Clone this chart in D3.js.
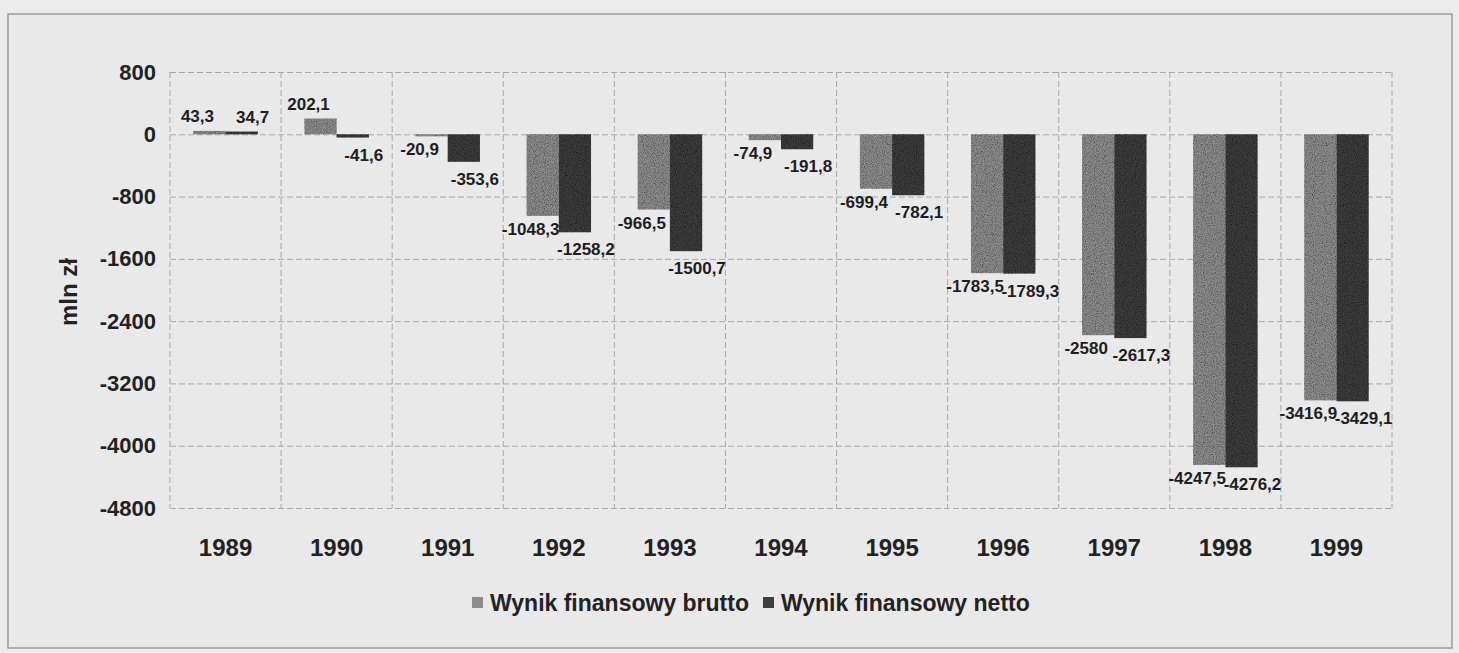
<!DOCTYPE html>
<html>
<head>
<meta charset="utf-8">
<script src="https://cdn.jsdelivr.net/npm/d3@7"></script>
<style>
    body { margin: 0; background: #ececec; }
    #chart svg { display: block; font-family: "Liberation Sans", Arial, sans-serif; font-weight: bold; }
</style>
</head>
<body>
<div id="chart"></div>
<script>
// Data
const years = ["1989", "1990", "1991", "1992", "1993", "1994", "1995", "1996", "1997", "1998", "1999"];
const brutto = [43.3, 202.1, -20.9, -1048.3, -966.5, -74.9, -699.4, -1783.5, -2580, -4247.5, -3416.9];
const netto = [34.7, -41.6, -353.6, -1258.2, -1500.7, -191.8, -782.1, -1789.3, -2617.3, -4276.2, -3429.1];
const yTicks = [800, 0, -800, -1600, -2400, -3200, -4000, -4800];
const seriesNames = ["Wynik finansowy brutto", "Wynik finansowy netto"];

const width = 1459, height = 653;
const plot = { left: 170, right: 1392, top: 72, bottom: 508 };

let svg = d3.select("#chart")
    .append("svg")
    .attr("width", width)
    .attr("height", height);

// light speckle to mimic the printed texture
let defs = svg.append("defs");
let grain = defs.append("filter").attr("id", "grain").attr("x", 0).attr("y", 0).attr("width", 1).attr("height", 1);
grain.append("feTurbulence").attr("type", "fractalNoise").attr("baseFrequency", 0.9).attr("numOctaves", 2).attr("result", "noise");
grain.append("feColorMatrix").attr("in", "noise").attr("type", "matrix")
    .attr("values", "0 0 0 0 0  0 0 0 0 0  0 0 0 0 0  0 0 0 -1.6 1.0").attr("result", "dots");
grain.append("feComposite").attr("in", "dots").attr("in2", "SourceGraphic").attr("operator", "in").attr("result", "dotsIn");
let merge = grain.append("feMerge");
merge.append("feMergeNode").attr("in", "SourceGraphic");
merge.append("feMergeNode").attr("in", "dotsIn");

// page frame
svg.append("rect")
    .attr("x", 8).attr("y", 14)
    .attr("width", 1444).attr("height", 634)
    .attr("fill", "#e9e9e9")
    .attr("stroke", "#9a9a9a")
    .attr("stroke-width", 1.5);

let x = d3.scaleBand()
    .domain(years)
    .range([plot.left, plot.right])
    .padding(0);

let y = d3.scaleLinear()
    .domain([-4800, 800])
    .range([plot.bottom, plot.top]);

// grid lines
svg.append("g")
    .attr("transform", `translate(${plot.left},0)`)
    .call(d3.axisLeft(y).tickValues(yTicks).tickSize(-(plot.right - plot.left)).tickFormat(""))
    .call(g => g.select(".domain").remove())
    .call(g => g.selectAll("line").attr("stroke", "#a8a8a8").attr("stroke-dasharray", "6,3"));

svg.append("g")
    .selectAll("line")
    .data(years.concat(["end"]))
    .enter()
    .append("line")
    .attr("x1", (d, i) => i < years.length ? x(d) : plot.right)
    .attr("x2", (d, i) => i < years.length ? x(d) : plot.right)
    .attr("y1", plot.top)
    .attr("y2", plot.bottom)
    .attr("stroke", "#a8a8a8")
    .attr("stroke-dasharray", "6,3");

// y axis labels
svg.append("g")
    .attr("transform", `translate(156,0)`)
    .call(d3.axisLeft(y).tickValues(yTicks).tickSize(0).tickPadding(0).tickFormat(d => String(d)))
    .call(g => g.select(".domain").remove())
    .selectAll("text")
    .attr("font-size", 22)
    .attr("font-family", "Liberation Sans, Arial, sans-serif")
    .attr("font-weight", "bold")
    .attr("fill", "#222");

// x axis labels
svg.append("g")
    .selectAll("text")
    .data(years)
    .enter()
    .append("text")
    .attr("x", d => x(d) + x.bandwidth() / 2)
    .attr("y", 556)
    .attr("text-anchor", "middle")
    .attr("font-size", 24)
    .attr("fill", "#222")
    .text(d => d);

// y title
svg.append("text")
    .attr("transform", "translate(77,292) rotate(-90)")
    .attr("text-anchor", "middle")
    .attr("font-size", 24)
    .attr("fill", "#222")
    .text("mln zł");

// bars
let barW = x.bandwidth() * 0.29;
let series = [
    { name: seriesNames[0], values: brutto, color: "#8d8d8d", offset: -barW, dx: -12 },
    { name: seriesNames[1], values: netto, color: "#3e3e3e", offset: 0, dx: 11 }
];

series.forEach(s => {
    svg.append("g")
        .selectAll("rect")
        .data(s.values)
        .enter()
        .append("rect")
        .attr("x", (d, i) => x(years[i]) + x.bandwidth() / 2 + s.offset)
        .attr("y", d => y(Math.max(0, d)))
        .attr("width", barW)
        .attr("height", d => Math.max(2, Math.abs(y(d) - y(0))))
        .attr("fill", s.color)
        .attr("filter", "url(#grain)");
});

// value labels
let fmt = v => String(v).replace(".", ",");
series.forEach((s, si) => {
    svg.append("g")
        .selectAll("text")
        .data(s.values)
        .enter()
        .append("text")
        .attr("x", (d, i) => x(years[i]) + x.bandwidth() / 2 + s.offset + barW / 2 + s.dx)
        .attr("y", d => d >= 0 ? y(d) - 9 : y(d) + (si === 0 ? 19 : 23))
        .attr("text-anchor", "middle")
        .attr("font-size", 17)
        .attr("fill", "#1e1e1e")
        .text(d => fmt(d));
});

// legend
let legend = svg.append("g").attr("transform", "translate(472,603)");
let lx = 0;
series.forEach(s => {
    let item = legend.append("g").attr("transform", `translate(${lx},0)`);
    item.append("rect")
        .attr("x", 0).attr("y", -6)
        .attr("width", 11).attr("height", 11)
        .attr("fill", s.color);
    let t = item.append("text")
        .attr("x", 18)
        .attr("y", 8)
        .attr("font-size", 23)
        .attr("fill", "#222")
        .text(s.name);
    lx += 18 + t.node().getComputedTextLength() + 14;
});
</script>
</body>
</html>
